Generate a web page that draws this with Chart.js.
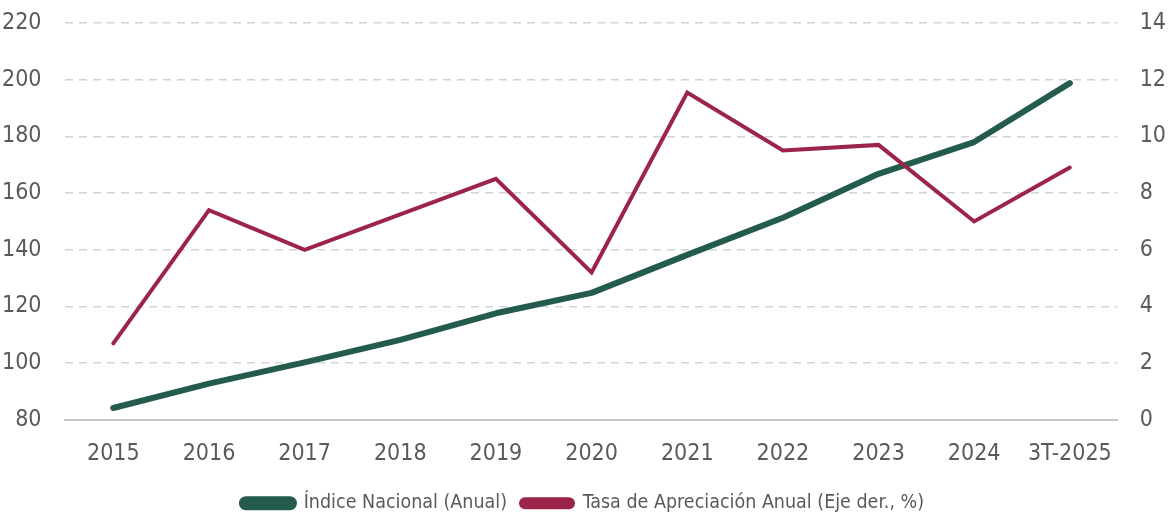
<!DOCTYPE html>
<html>
<head>
<meta charset="utf-8">
<script src="https://cdn.jsdelivr.net/npm/chart.js@4.4.1/dist/chart.umd.min.js"></script>
<style>
  html, body { margin: 0; padding: 0; background: #ffffff; }
  #wrap { width: 1170px; height: 523px; position: relative; }
</style>
</head>
<body>
<div id="wrap"><canvas id="grafica"></canvas></div>
<script>
// Datos
const periodos = ['2015', '2016', '2017', '2018', '2019', '2020', '2021', '2022', '2023', '2024', '3T-2025'];
const indiceNacional = [84.2, 92.8, 100.3, 108.2, 117.6, 124.8, 138.2, 151.3, 166.8, 178.0, 198.8];
const tasaApreciacion = [2.7, 7.4, 6.0, 7.25, 8.5, 5.2, 11.55, 9.5, 9.7, 7.0, 8.9];
const ticksIzq = [80, 100, 120, 140, 160, 180, 200, 220];
const ticksDer = [0, 2, 4, 6, 8, 10, 12, 14];

const fuente = "'Liberation Sans Narrow', 'DejaVu Sans Condensed', sans-serif";
const colorTexto = '#5a5a5a';
const verde = '#235b4e';
const guinda = '#9d2449';

// quita el margen que los ejes verticales reservan arriba/abajo
const sinRelleno = (axis) => { axis.paddingTop = 0; axis.paddingBottom = 0; };

document.addEventListener('DOMContentLoaded', () => {
    const ctx = document.getElementById('grafica').getContext('2d');

    new Chart(ctx, {
        type: 'line',
        data: {
            labels: periodos,
            datasets: [
                {
                    label: 'Índice Nacional (Anual)',
                    data: indiceNacional,
                    yAxisID: 'y',
                    borderColor: verde,
                    backgroundColor: verde,
                    borderWidth: 6,
                    borderCapStyle: 'round',
                    borderJoinStyle: 'round',
                    pointRadius: 0,
                    tension: 0,
                    order: 2
                },
                {
                    label: 'Tasa de Apreciación Anual (Eje der., %)',
                    data: tasaApreciacion,
                    yAxisID: 'y2',
                    borderColor: guinda,
                    backgroundColor: guinda,
                    borderWidth: 4,
                    borderCapStyle: 'round',
                    borderJoinStyle: 'miter',
                    pointRadius: 0,
                    tension: 0,
                    order: 1
                }
            ]
        },
        options: {
            responsive: true,
            maintainAspectRatio: false,
            animation: false,
            layout: { padding: { top: 23, left: -22, right: -18, bottom: 0 } },
            scales: {
                x: {
                    offset: true,
                    grid: { display: false },
                    border: { display: true, color: '#c8c8c8', width: 2 },
                    ticks: { color: colorTexto, font: { family: fuente, size: 23 }, padding: 12, maxRotation: 0 }
                },
                y: {
                    position: 'left',
                    min: 80,
                    max: 220,
                    afterBuildTicks: (axis) => { axis.ticks = ticksIzq.map(v => ({ value: v })); },
                    afterFit: sinRelleno,
                    grid: {
                        color: (c) => (c.tick && c.tick.value === 80 ? 'rgba(0,0,0,0)' : '#d4d4d4'),
                        lineWidth: 1.5,
                        drawTicks: false
                    },
                    border: { display: false, dash: [8, 6] },
                    ticks: { color: colorTexto, font: { family: fuente, size: 23 }, padding: 24 }
                },
                y2: {
                    position: 'right',
                    min: 0,
                    max: 14,
                    afterBuildTicks: (axis) => { axis.ticks = ticksDer.map(v => ({ value: v })); },
                    afterFit: sinRelleno,
                    grid: { display: false, drawTicks: false },
                    border: { display: false },
                    ticks: { color: colorTexto, font: { family: fuente, size: 23 }, padding: 22 }
                }
            },
            plugins: {
                legend: {
                    position: 'bottom',
                    labels: {
                        color: colorTexto,
                        font: { family: fuente, size: 19.5 },
                        boxWidth: 52,
                        boxHeight: 8,
                        useBorderRadius: true,
                        borderRadius: 4,
                        padding: 14,
                        sort: (a, b) => a.datasetIndex - b.datasetIndex
                    }
                },
                tooltip: { enabled: false }
            }
        }
    });
});
</script>
</body>
</html>
